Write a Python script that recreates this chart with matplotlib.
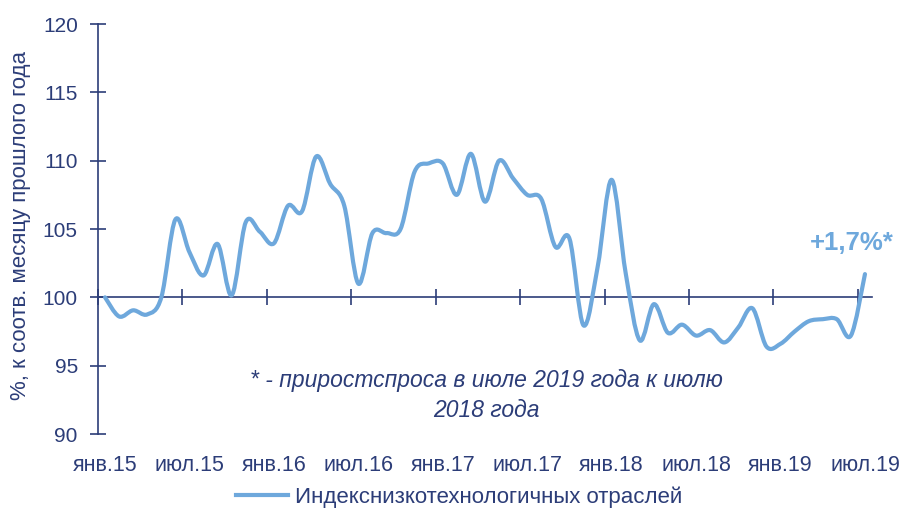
import numpy as np
import matplotlib
matplotlib.use("Agg")
import matplotlib.pyplot as plt
from matplotlib.path import Path
from matplotlib.patches import PathPatch
from matplotlib.lines import Line2D

plt.rcParams['font.family'] = ['Liberation Sans', 'DejaVu Sans']

# monthly index, Jan 2015 .. Jul 2019
values = [
    100.0, 98.6, 99.05, 98.75, 100.0, 105.7, 103.3, 101.6, 103.9, 100.15, 105.5, 104.8,   # 2015
    103.95, 106.7, 106.3, 110.3, 108.3, 106.7, 101.0, 104.7, 104.7, 105.0, 109.2, 109.8,  # 2016
    109.8, 107.5, 110.5, 107.0, 110.0, 108.7, 107.5, 107.2, 103.7, 104.3, 97.95, 102.2,   # 2017
    108.6, 101.75, 96.85, 99.5, 97.4, 98.0, 97.2, 97.6, 96.7, 97.8, 99.2, 96.4,           # 2018
    96.6, 97.5, 98.25, 98.4, 98.4, 97.2, 101.7,                                           # 2019
]
tick_labels = ['янв.15', 'июл.15', 'янв.16', 'июл.16', 'янв.17',
               'июл.17', 'янв.18', 'июл.18', 'янв.19', 'июл.19']
yticks = [90, 95, 100, 105, 110, 115, 120]
series_name = 'Индекснизкотехнологичных отраслей'
note_lines = ['* - приростспроса в июле 2019 года к июлю', '2018 года']
last_label = '+1,7%*'

LINE = '#6EA8DC'
NAVY = '#2C3D78'


def smooth_path(xs, ys):
    # bezier segments through the points (excel-like smoothed line)
    pts = np.column_stack([xs, ys])
    n = len(pts)
    verts = [pts[0]]
    codes = [Path.MOVETO]
    for i in range(n - 1):
        p0 = pts[i - 1] if i > 0 else pts[i]
        p1 = pts[i]
        p2 = pts[i + 1]
        p3 = pts[i + 2] if i + 2 < n else pts[i + 1]
        c1 = p1 + (p2 - p0) / 6.0
        c2 = p2 - (p3 - p1) / 6.0
        verts += [c1, c2, p2]
        codes += [Path.CURVE4] * 3
    return Path(verts, codes)


fig = plt.figure(figsize=(9.06, 5.11), dpi=100)
ax = fig.add_axes([98 / 906, 1 - 434 / 511, (872 - 98) / 906, 410 / 511])

x = np.arange(len(values))
patch = PathPatch(smooth_path(x, values), facecolor='none', edgecolor=LINE,
                  lw=3.0, capstyle='round', joinstyle='round', zorder=3)
ax.add_patch(patch)

ax.set_xlim(-0.5, len(values) - 0.5)
ax.set_ylim(90, 120)

for s in ['top', 'right']:
    ax.spines[s].set_visible(False)
ax.spines['bottom'].set_position(('data', 100))
for s in ['left', 'bottom']:
    ax.spines[s].set_color(NAVY)
    ax.spines[s].set_linewidth(1.2)

ax.set_yticks(yticks)
ax.tick_params(axis='y', direction='inout', length=11, width=1.2, color=NAVY,
               labelcolor=NAVY, labelsize=15, pad=9)

major_pos = np.arange(0, len(values), 6)
ax.set_xticks(major_pos - 0.5)
ax.set_xticklabels([])
ax.tick_params(axis='x', direction='inout', length=11, width=1.2, color=NAVY)

for pos, lab in zip(major_pos, tick_labels):
    ax.text(pos, -0.078, lab, transform=ax.get_xaxis_transform(),
            ha='center', va='center', fontsize=15.5, color=NAVY)

ax.text(53.1, 103.95, last_label, ha='center', va='center', fontsize=18.5,
        fontweight='bold', color=LINE)
ax.text(27.1, 93.93, note_lines[0], ha='center', va='center', fontsize=16.5,
        style='italic', color=NAVY)
ax.text(27.1, 91.73, note_lines[1], ha='center', va='center', fontsize=16.5,
        style='italic', color=NAVY)

fig.text(21 / 906, 1 - 226 / 511, '%, к соотв. месяцу прошлого года',
         rotation=90, ha='center', va='center', fontsize=16, color=NAVY)

handle = Line2D([], [], color=LINE, lw=3)
fig.legend([handle], [series_name], loc='center', frameon=False,
           bbox_to_anchor=(459 / 906, 1 - 497 / 511), fontsize=16,
           handlelength=2.35, handletextpad=0.3, labelcolor=NAVY)

fig.savefig('out.png', dpi=100)
